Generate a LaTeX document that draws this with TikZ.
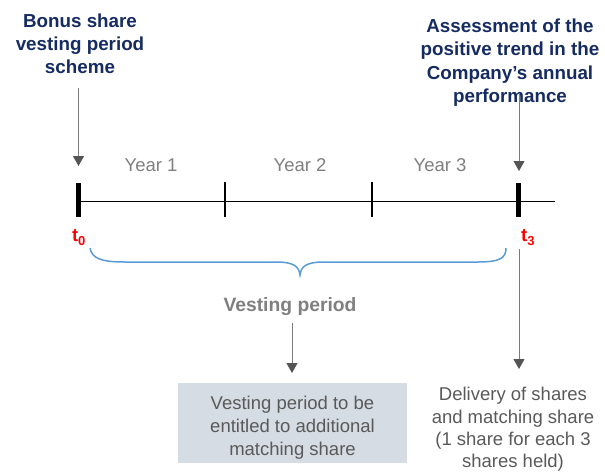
\documentclass[tikz,border=0pt]{standalone}
\usepackage{fontspec}
\setmainfont{Liberation Sans}
\usetikzlibrary{arrows.meta}
\definecolor{navy}{HTML}{152B61}
\definecolor{txtgrey}{HTML}{595959}
\definecolor{yeargrey}{HTML}{7F7F7F}
\definecolor{bracecol}{HTML}{5B9BD5}
\definecolor{boxfill}{HTML}{D6DCE4}
\definecolor{linegrey}{HTML}{7A7A7A}
\definecolor{headgrey}{HTML}{555555}
\newcommand{\tsub}[1]{\raisebox{-3.5pt}{\fontsize{13}{13}\selectfont #1}}
\begin{document}
\begin{tikzpicture}[x=1pt,y=-1pt,
  title/.style={font=\fontsize{18.8}{23.3}\selectfont\bfseries, text=navy, align=center, inner sep=0pt, anchor=north},
  yearlab/.style={font=\fontsize{18.5}{23}\selectfont, text=yeargrey, inner sep=0pt, anchor=base},
  tlab/.style={font=\fontsize{18.5}{23}\selectfont\bfseries, text=red, inner sep=0pt},
  bigtick/.style={fill=black, draw=none, rectangle, minimum width=5pt, minimum height=34pt, inner sep=0pt},
  smalltick/.style={fill=black, draw=none, rectangle, minimum width=2pt, minimum height=35pt, inner sep=0pt},
  vlab/.style={font=\fontsize{19.3}{23}\selectfont\bfseries, text=yeargrey, inner sep=0pt, anchor=base},
  greybox/.style={fill=boxfill, draw=none, rectangle, minimum width=229pt, minimum height=80pt, inner sep=0pt},
  bodytext/.style={font=\fontsize{18.5}{23}\selectfont, text=txtgrey, align=center, inner sep=0pt, anchor=north},
  arr/.style={draw=linegrey, line width=1pt, -{Triangle[width=11pt,length=10pt,color=headgrey]}},
  brace/.style={draw=bracecol, line width=1.5pt}
]
\useasboundingbox (0,0) rectangle (605,472);

% titles
\node[title] (ttlA) at (80,13.3) {Bonus share\\vesting period\\scheme};
\node[title] (ttlB) at (510,18.6) {Assessment of the\\positive trend in the\\Company’s annual\\performance};

% timeline
\coordinate (lineS) at (80,201);
\coordinate (lineE) at (555,201);
\draw[line width=0.9pt] (lineS) -- (lineE);
\node[bigtick] (k0) at (78.5,200) {};
\node[smalltick] (k1) at (225,199.5) {};
\node[smalltick] (k2) at (371.5,199.5) {};
\node[bigtick] (k3) at (518.5,200) {};

% year labels
\node[yearlab] (y1) at (151,171) {Year 1};
\node[yearlab] (y2) at (300,171) {Year 2};
\node[yearlab] (y3) at (440,171) {Year 3};

% t labels
\node[tlab, anchor=base] (lt0) at (78.7,241.5) {t\tsub{0}};
\node[tlab, anchor=base west] (lt3) at (521,241.5) {t\tsub{3}};

% brace
\draw[brace] (90,248) .. controls (92,258) and (100,262) .. (125,262) -- (276,262)
  .. controls (293,262) and (299,266) .. (300,275)
  .. controls (301,266) and (307,262) .. (324,262) -- (478,262)
  .. controls (500,262) and (506,258) .. (506,248);

% vesting period label
\node[vlab] (vp) at (290,311) {Vesting period};

% box and texts
\node[greybox] (bx) at (292.5,423) {};
\node[bodytext] (bxt) at (292.5,395.8) {Vesting period to be\\entitled to additional\\matching share};
\node[bodytext, font=\fontsize{18.5}{22.3}\selectfont] (dlv) at (513,387.2) {Delivery of shares\\and matching share\\(1 share for each 3\\shares held)};

% arrows
\coordinate (a1s) at (78.5,88);
\coordinate (a1e) at (78.5,166);
\coordinate (a2s) at (519,93);
\coordinate (a2e) at (519,171);
\coordinate (a3s) at (292,323);
\coordinate (a3e) at (292,373);
\coordinate (a4s) at (519,249);
\coordinate (a4e) at (519,369);
\draw[arr] (a1s) -- (a1e);
\draw[arr] (a2s) -- (a2e);
\draw[arr] (a3s) -- (a3e);
\draw[arr] (a4s) -- (a4e);
\end{tikzpicture}
\end{document}
